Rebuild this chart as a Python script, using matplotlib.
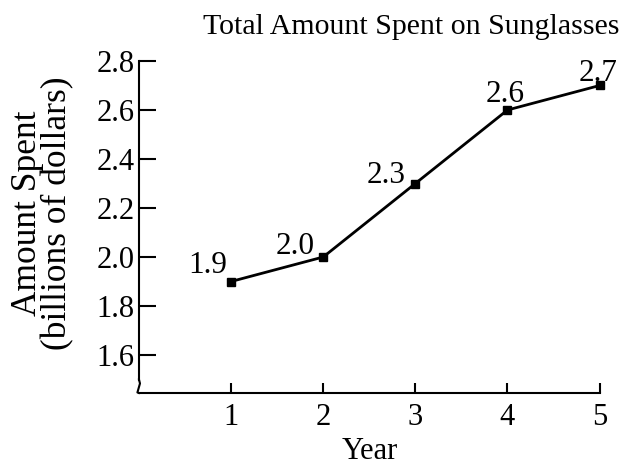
import matplotlib
matplotlib.use("Agg")
import matplotlib.pyplot as plt

years = [1, 2, 3, 4, 5]
amounts = [1.9, 2.0, 2.3, 2.6, 2.7]
point_labels = ["1.9", "2.0", "2.3", "2.6", "2.7"]
y_ticks = [1.6, 1.8, 2.0, 2.2, 2.4, 2.6, 2.8]

# label offsets in points (dx, baseline height above the marker)
label_offsets = [(-16.5, 5.8), (-20, 2), (-21, 0.7), (-1.4, 5.8), (-1.4, 3.2)]

plt.rcParams['font.family'] = ['Liberation Serif', 'DejaVu Serif']

fig = plt.figure(figsize=(6.28, 4.66), dpi=100)
ax = fig.add_axes([0.2213, 0.1567, 0.7335, 0.7124])

ax.plot(years, amounts, color='black', linewidth=2, marker='s', markersize=6, clip_on=False)
for x, y, lab, off in zip(years, amounts, point_labels, label_offsets):
    ax.annotate(lab, (x, y), xytext=off, textcoords='offset points',
                ha='center', va='baseline', fontsize=22.5)

ax.set_xlim(0, 5)
ax.set_ylim(1.445, 2.8)
ax.set_xticks(years)
ax.set_yticks(y_ticks)
ax.set_yticklabels([f"{v:.1f}" for v in y_ticks])

for s in ['top', 'right']:
    ax.spines[s].set_visible(False)
ax.spines['left'].set_bounds(1.5, 2.8)
ax.spines['left'].set_linewidth(1.5)
ax.spines['bottom'].set_linewidth(1.5)

# axis break zigzag on the y axis
zx = [0, 0.011, -0.017, 0, 0]
zy = [1.5, 1.484, 1.447, 1.445, 1.445]
ax.plot(zx, zy, color='black', linewidth=1.5, clip_on=False)

ax.tick_params(axis='y', direction='in', length=12, width=1.5, labelsize=22, pad=3)
ax.tick_params(axis='x', direction='in', length=7, width=1.5, labelsize=22, pad=7)

ax.set_xlabel('Year', fontsize=22, labelpad=4)
ax.set_ylabel('Amount Spent\n(billions of dollars)', fontsize=25.5, linespacing=0.88)
ax.yaxis.set_label_coords(-0.14, 0.541)
fig.text(0.987, 0.915, 'Total Amount Spent on Sunglasses', ha='right', va='bottom', fontsize=21.5)

fig.savefig('out.png', dpi=100)
